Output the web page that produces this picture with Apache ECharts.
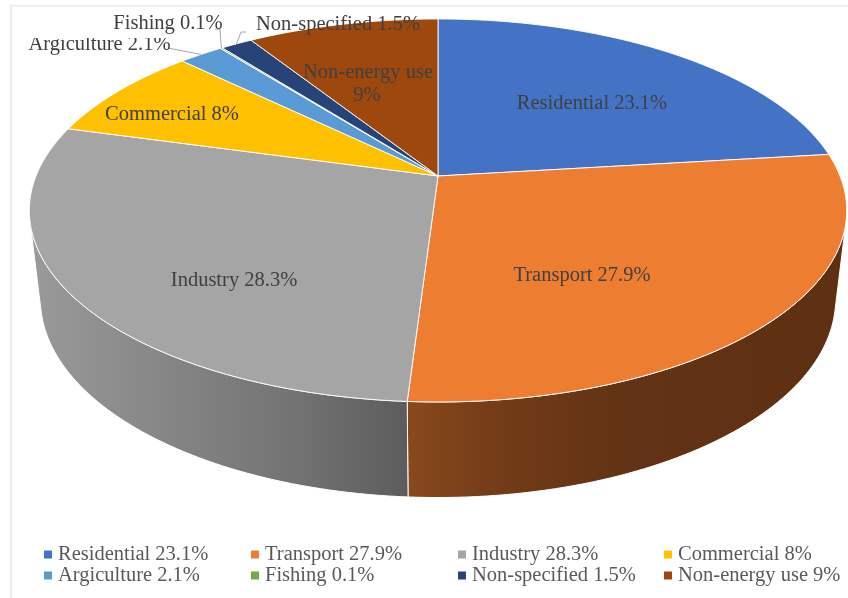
<!DOCTYPE html>
<html>
<head>
<meta charset="utf-8">
<style>html,body{margin:0;padding:0;background:#fff}#chart{width:848px;height:598px}</style>
<script src="https://cdn.jsdelivr.net/npm/echarts@6/dist/echarts.min.js"></script>
</head>
<body>
<div id="chart"></div>
<script>
const categories = ['Residential', 'Transport', 'Industry', 'Commercial', 'Argiculture', 'Fishing', 'Non-specified', 'Non-energy use'];
const shares = [23.1, 27.9, 28.3, 8, 2.1, 0.1, 1.5, 9];

const topColors = ['#4472C4', '#ED7D31', '#A5A5A5', '#FFC000', '#5B9BD5', '#70AD47', '#264478', '#9E480E'];
const legendNames = categories.map((c, i) => c + ' ' + shares[i] + '%');

// Tilted-disc projection of the pie
const CX = 438, APEX_Y = 176, A = 402, B = 185.3, K = 0.18;
const WALL_SCALE_X = 0.973, WALL_SCALE_Y = 1.036, WALL_APEX_Y = 263.4;

function rim(share) {
  const t = share / 100 * Math.PI * 2, u = Math.sin(t), v = Math.cos(t), d = 1 + K * v;
  return [CX + A * u / d, APEX_Y - B * v / d];
}
function lowerRim(share) {
  const p = rim(share);
  return [CX + WALL_SCALE_X * (p[0] - CX), WALL_APEX_Y + WALL_SCALE_Y * (p[1] - APEX_Y)];
}
function sample(s0, s1) {
  const n = Math.max(2, Math.ceil(Math.abs(s1 - s0) * 3)), out = [];
  for (let i = 0; i <= n; i++) out.push(s0 + (s1 - s0) * i / n);
  return out;
}
// common outer tangent of the top rim and the lower rim inside a share range
function tangent(s0, s1) {
  const steps = sample(s0, s1), sign = Math.sin((s0 + s1) / 100 * Math.PI) > 0 ? 1 : -1;
  let sTop = s0, sLow = s0;
  steps.forEach(s => { if (sign * (lowerRim(s)[0] - lowerRim(sLow)[0]) > 0) sLow = s; });
  for (let it = 0; it < 6; it++) {
    const pL = lowerRim(sLow);
    let best = -Infinity;
    steps.forEach(s => {
      const p = rim(s), r = sign * (p[0] - pL[0]) / (pL[1] - p[1]);
      if (p[1] < pL[1] && r > best) { best = r; sTop = s; }
    });
    const pT = rim(sTop);
    best = -Infinity;
    steps.forEach(s => {
      const p = lowerRim(s), r = sign * (p[0] - pT[0]) / (p[1] - pT[1]);
      if (p[1] > pT[1] && r > best) { best = r; sLow = s; }
    });
  }
  return [sTop, sLow];
}
function grad(stops) {
  return { type: 'linear', x: 0, y: 0, x2: 848, y2: 0, global: true,
    colorStops: stops.map(s => ({ offset: s[0] / 848, color: s[1] })) };
}
const wallFills = {
  Transport: grad([[408, '#88491C'], [500, '#733B17'], [620, '#623314'], [848, '#5E3012']]),
  Industry: grad([[30, '#9A9A9A'], [150, '#888888'], [300, '#727272'], [408, '#5C5C5C']])
};
const labelStyle = { fill: '#404040', fontFamily: '"Liberation Serif"', fontSize: 20.5, align: 'center', verticalAlign: 'middle' };
const labelSpots = {
  Residential: [[592, 104, 'Residential 23.1%']],
  Transport: [[582, 276, 'Transport 27.9%']],
  Industry: [[234, 281, 'Industry 28.3%']],
  Commercial: [[172, 115, 'Commercial 8%']],
  Argiculture: [[99.5, 45, 'Argiculture 2.1%', [20, 38, 170, 20]]],
  Fishing: [[168, 23.5, 'Fishing 0.1%']],
  'Non-specified': [[338, 25, 'Non-specified 1.5%']],
  'Non-energy use': [[368, 73, 'Non-energy use'], [367, 96, '9%']]
};
const leaderTails = {
  Argiculture: [[168, 48]],
  Fishing: [[215, 29], [220, 29]],
  'Non-specified': [[246, 32], [241, 32]]
};

function renderer(index) {
  const name = categories[index];
  return function (params, api) {
    const share = api.value(0);
    let start = 0;
    for (let i = 0; i < index; i++) start += shares[i];
    const end = start + share;
    const children = [];
    if (wallFills[name]) {
      const tan = tangent(start, end);
      const pts = name === 'Transport'
        ? sample(tan[0], end).map(rim).concat(sample(end, tan[1]).map(lowerRim))
        : sample(start, tan[0]).map(rim).concat(sample(tan[1], start).map(lowerRim));
      children.push({ type: 'polygon', shape: { points: pts }, z2: 1,
        style: { fill: wallFills[name], stroke: '#fff', lineWidth: 1 } });
    }
    const face = [[CX, APEX_Y]].concat(sample(start, end).map(rim));
    children.push({ type: 'polygon', shape: { points: face }, z2: 2,
      style: { fill: topColors[index], stroke: '#fff', lineWidth: 0.9, lineJoin: 'round' } });
    if (leaderTails[name]) {
      const pts = leaderTails[name].concat([rim((start + end) / 2)]);
      children.push({ type: 'polyline', shape: { points: pts }, z2: 3,
        style: { fill: 'none', stroke: '#A6A6A6', lineWidth: 1 } });
    }
    labelSpots[name].forEach(l => {
      const el = { type: 'text', x: l[0], y: l[1], z2: 4, style: Object.assign({ text: l[2] }, labelStyle) };
      if (l[3]) el.clipPath = { type: 'rect', shape: { x: l[3][0] - l[0], y: l[3][1] - l[1], width: l[3][2], height: l[3][3] } };
      children.push(el);
    });
    return { type: 'group', children: children };
  };
}

const legendColumns = [[0, 4, 44], [1, 5, 251], [2, 6, 458], [3, 7, 664]];
const chart = echarts.init(document.getElementById('chart'), null, { renderer: 'canvas' });
chart.setOption({
  animation: false,
  backgroundColor: '#fff',
  graphic: [
    { type: 'rect', shape: { x: 10, y: 5, width: 2, height: 593 }, style: { fill: '#ECECEC' }, silent: true },
    { type: 'rect', shape: { x: 10, y: 5, width: 838, height: 1.6 }, style: { fill: '#ECECEC' }, silent: true }
  ],
  legend: legendColumns.map(c => ({
    orient: 'vertical', left: c[2], top: 544, padding: 0, itemGap: 0, itemWidth: 8, itemHeight: 8,
    icon: 'rect', selectedMode: false,
    data: [legendNames[c[0]], legendNames[c[1]]],
    textStyle: { color: '#595959', fontFamily: '"Liberation Serif"', fontSize: 20.5, lineHeight: 20.5, padding: [0, 0, 0, 1] }
  })),
  series: categories.map((c, i) => ({
    type: 'custom', name: legendNames[i], coordinateSystem: 'none', silent: true,
    itemStyle: { color: topColors[i] },
    data: [[shares[i]]],
    renderItem: renderer(i)
  }))
});
</script>
</body>
</html>
